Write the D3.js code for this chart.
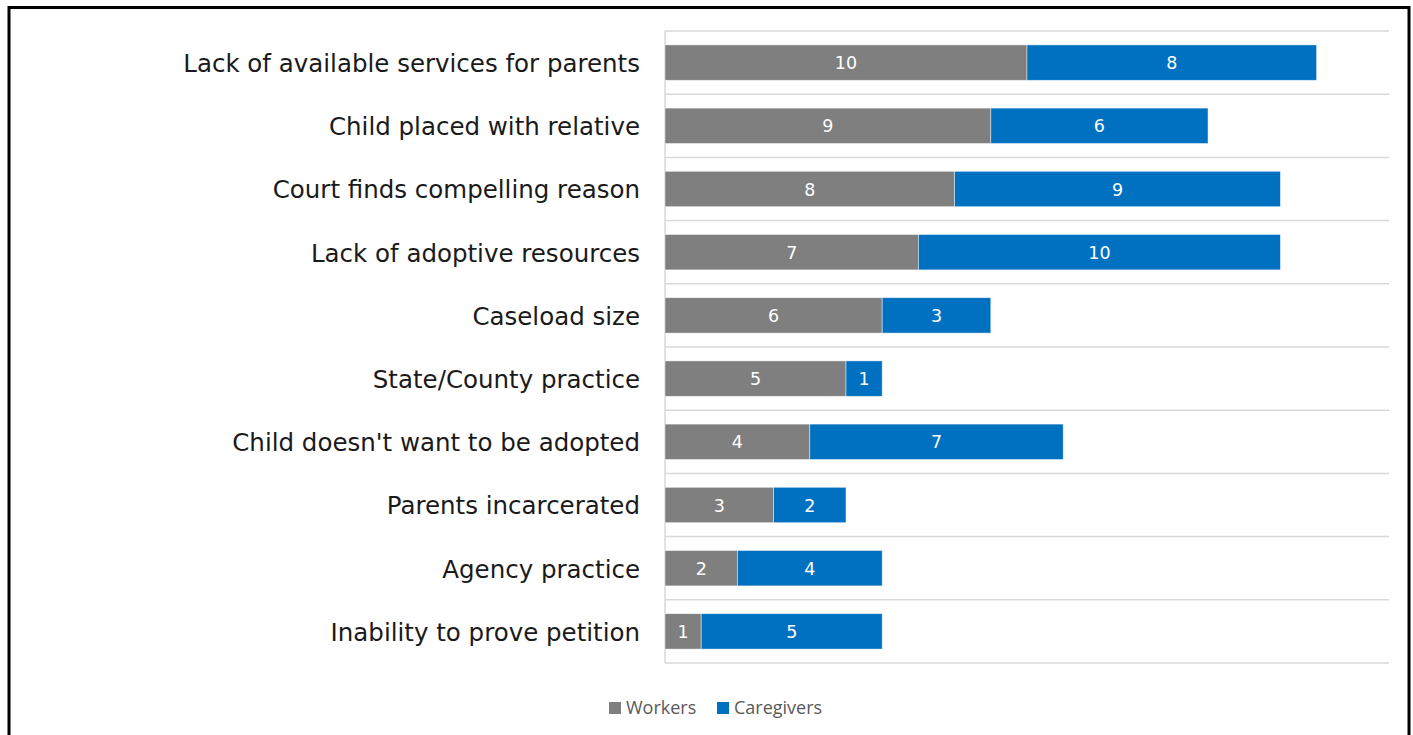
<!DOCTYPE html>
<html>
<head>
<meta charset="utf-8">
<script src="https://cdn.jsdelivr.net/npm/d3@7"></script>
<style>
  body { margin: 0; background: #fff; }
  svg { display: block; }
</style>
</head>
<body>
<div id="chart"></div>
<script>
  const categories = [
    'Lack of available services for parents',
    'Child placed with relative',
    'Court finds compelling reason',
    'Lack of adoptive resources',
    'Caseload size',
    'State/County practice',
    "Child doesn't want to be adopted",
    'Parents incarcerated',
    'Agency practice',
    'Inability to prove petition'
  ];
  const workers = [10, 9, 8, 7, 6, 5, 4, 3, 2, 1];
  const caregivers = [8, 6, 9, 10, 3, 1, 7, 2, 4, 5];
  const seriesNames = ['Workers', 'Caregivers'];
  const seriesColors = ['#7f7f7f', '#0070c0'];

  const width = 1413, height = 735;
  const plot = { left: 665, right: 1389, top: 31, bottom: 663 };

  const svg = d3.select('#chart').append('svg')
    .attr('width', width)
    .attr('height', height);

  // рамка
  svg.append('rect')
    .attr('x', 9).attr('y', 7.5)
    .attr('width', 1400).attr('height', 740)
    .attr('fill', 'none')
    .attr('stroke', '#000')
    .attr('stroke-width', 3);

  const x = d3.scaleLinear().domain([0, 20]).range([plot.left, plot.right]);
  const y = d3.scaleBand().domain(categories).range([plot.top, plot.bottom]).paddingInner(0.44).paddingOuter(0.22);

  // линии между категориями
  const gridYs = d3.range(categories.length + 1).map(i => plot.top + i * (plot.bottom - plot.top) / categories.length);
  svg.append('g').selectAll('line')
    .data(gridYs)
    .join('line')
    .attr('x1', plot.left).attr('x2', plot.right)
    .attr('y1', d => d).attr('y2', d => d)
    .attr('stroke', '#d9d9d9')
    .attr('stroke-width', 1.5);

  svg.append('line')
    .attr('x1', plot.left).attr('x2', plot.left)
    .attr('y1', plot.top).attr('y2', plot.bottom)
    .attr('stroke', '#d9d9d9')
    .attr('stroke-width', 1.5);

  const stacked = d3.stack().keys([0, 1])(categories.map((c, i) => ({ cat: c, 0: workers[i], 1: caregivers[i] })));

  stacked.forEach((layer, si) => {
    const g = svg.append('g');
    g.selectAll('rect')
      .data(layer)
      .join('rect')
      .attr('x', d => x(d[0]))
      .attr('y', d => y(d.data.cat))
      .attr('width', d => x(d[1]) - x(d[0]))
      .attr('height', y.bandwidth())
      .attr('fill', seriesColors[si])
      .attr('stroke', 'rgba(255,255,255,0.6)')
      .attr('stroke-width', 0.75);

    g.selectAll('text')
      .data(layer)
      .join('text')
      .attr('x', d => (x(d[0]) + x(d[1])) / 2)
      .attr('y', d => y(d.data.cat) + y.bandwidth() / 2)
      .attr('dy', '0.38em')
      .attr('text-anchor', 'middle')
      .attr('fill', '#fff')
      .attr('font-family', 'DejaVu Sans, sans-serif')
      .attr('font-size', 17.5)
      .text(d => d[1] - d[0]);
  });

  // подписи категорий
  svg.append('g').selectAll('text')
    .data(categories)
    .join('text')
    .attr('x', 640)
    .attr('y', d => y(d) + y.bandwidth() / 2)
    .attr('dy', '0.38em')
    .attr('text-anchor', 'end')
    .attr('fill', '#1a1a1a')
    .attr('font-family', 'DejaVu Sans, sans-serif')
    .attr('font-size', 24.5)
    .text(d => d);

  // легенда
  const legend = svg.append('g').attr('font-family', 'Open Sans, sans-serif').attr('font-size', 18).attr('fill', '#595959');
  const legendX = [609, 717];
  seriesNames.forEach((name, i) => {
    legend.append('rect')
      .attr('x', legendX[i]).attr('y', 702)
      .attr('width', 12).attr('height', 12)
      .attr('fill', seriesColors[i]);
    legend.append('text')
      .attr('x', legendX[i] + 17).attr('y', 708)
      .attr('dy', '0.36em')
      .text(name);
  });
</script>
</body>
</html>
